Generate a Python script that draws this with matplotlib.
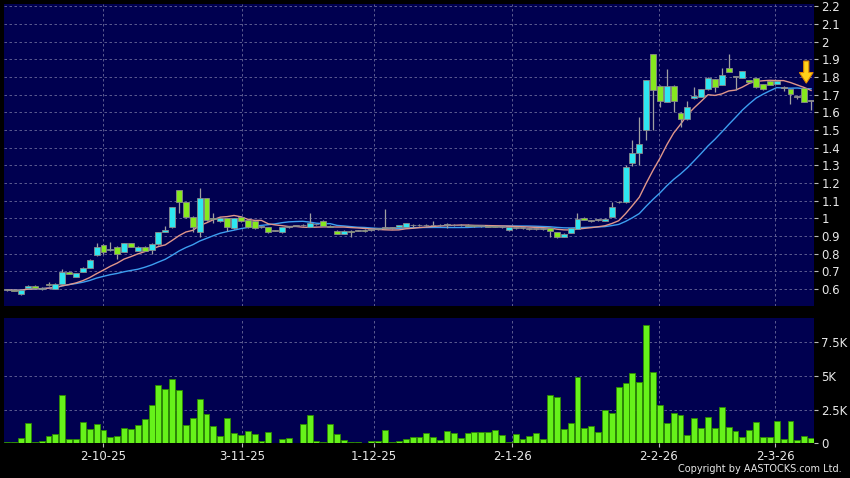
import numpy as np
import pandas as pd
import matplotlib
matplotlib.use("Agg")
import matplotlib.pyplot as plt
from matplotlib.patches import FancyArrow

# daily candles (open, high, low, close), oldest first
opens = [0.595, 0.595, 0.572, 0.607, 0.618, 0.598, 0.63, 0.60, 0.63, 0.698,
         0.67, 0.698, 0.721, 0.79, 0.851, 0.82, 0.838, 0.81, 0.858, 0.817,
         0.839, 0.82, 0.855, 0.922, 0.949, 1.159, 1.09, 1.009, 0.921, 1.113,
         1.0, 0.985, 1.0, 0.943, 1.009, 0.99, 0.985, 0.95, 0.949, 0.93,
         0.92, 0.95, 0.955, 0.96, 0.952, 0.965, 0.987, 0.955, 0.93, 0.911,
         0.93, 0.93, 0.935, 0.935, 0.94, 0.945, 0.945, 0.95, 0.952, 0.96,
         0.96, 0.96, 0.96, 0.96, 0.962, 0.96, 0.96, 0.96, 0.958, 0.955,
         0.955, 0.952, 0.95, 0.934, 0.945, 0.945, 0.94, 0.94, 0.94, 0.943,
         0.92, 0.896, 0.918, 0.94, 1.0, 0.985, 0.99, 0.985, 1.009, 1.09,
         1.09, 1.311, 1.368, 1.50, 1.93, 1.751, 1.66, 1.751, 1.598, 1.56,
         1.68, 1.689, 1.73, 1.789, 1.755, 1.85, 1.80, 1.796, 1.783, 1.793,
         1.76, 1.779, 1.76, 1.74, 1.73, 1.689, 1.736, 1.666]
highs = [0.60, 0.60, 0.595, 0.62, 0.62, 0.61, 0.64, 0.632, 0.712, 0.70,
         0.69, 0.722, 0.768, 0.857, 0.853, 0.865, 0.84, 0.859, 0.86, 0.84,
         0.84, 0.86, 0.922, 0.958, 1.065, 1.16, 1.092, 1.01, 1.17, 1.115,
         1.028, 1.005, 1.0, 1.002, 1.01, 0.995, 0.99, 0.955, 0.95, 0.935,
         0.952, 0.955, 0.955, 0.965, 1.028, 0.97, 0.99, 0.96, 0.935, 0.932,
         0.932, 0.935, 0.938, 0.94, 0.945, 1.053, 0.95, 0.962, 0.975, 0.97,
         0.965, 0.965, 0.985, 0.965, 0.975, 0.97, 0.965, 0.965, 0.962, 0.96,
         0.96, 0.958, 0.955, 0.952, 0.95, 0.95, 0.945, 0.945, 0.945, 0.945,
         0.922, 0.915, 0.945, 1.03, 1.005, 0.99, 0.995, 1.0, 1.094, 1.10,
         1.30, 1.443, 1.572, 1.785, 1.93, 1.755, 1.845, 1.755, 1.60, 1.666,
         1.742, 1.732, 1.80, 1.79, 1.849, 1.93, 1.802, 1.836, 1.785, 1.795,
         1.762, 1.78, 1.781, 1.75, 1.732, 1.70, 1.738, 1.668]
lows = [0.59, 0.588, 0.568, 0.605, 0.605, 0.596, 0.618, 0.598, 0.628, 0.685,
        0.668, 0.696, 0.72, 0.788, 0.797, 0.815, 0.77, 0.808, 0.835, 0.815,
        0.815, 0.80, 0.85, 0.92, 0.945, 1.028, 1.0, 0.92, 0.892, 0.985,
        0.972, 0.98, 0.925, 0.94, 0.98, 0.945, 0.94, 0.945, 0.915, 0.925,
        0.918, 0.945, 0.955, 0.955, 0.95, 0.96, 0.955, 0.95, 0.91, 0.91,
        0.895, 0.925, 0.92, 0.93, 0.935, 0.94, 0.94, 0.948, 0.95, 0.95,
        0.955, 0.955, 0.955, 0.958, 0.945, 0.955, 0.955, 0.955, 0.952, 0.95,
        0.95, 0.948, 0.945, 0.93, 0.94, 0.94, 0.935, 0.935, 0.935, 0.892,
        0.89, 0.894, 0.915, 0.938, 0.988, 0.98, 0.985, 0.982, 1.005, 1.085,
        1.088, 1.296, 1.30, 1.443, 1.50, 1.632, 1.658, 1.604, 1.519, 1.558,
        1.678, 1.687, 1.728, 1.717, 1.753, 1.828, 1.727, 1.794, 1.77, 1.735,
        1.728, 1.753, 1.758, 1.72, 1.647, 1.675, 1.66, 1.613]
closes = [0.595, 0.59, 0.592, 0.618, 0.607, 0.607, 0.62, 0.63, 0.698, 0.687,
          0.689, 0.72, 0.766, 0.838, 0.81, 0.822, 0.80, 0.857, 0.839, 0.839,
          0.817, 0.855, 0.92, 0.934, 1.062, 1.09, 1.009, 0.95, 1.113, 0.99,
          0.995, 1.0, 0.949, 1.0, 0.985, 0.95, 0.945, 0.95, 0.92, 0.93,
          0.95, 0.95, 0.955, 0.96, 0.972, 0.965, 0.957, 0.952, 0.911, 0.93,
          0.92, 0.93, 0.925, 0.935, 0.94, 0.945, 0.945, 0.96, 0.972, 0.96,
          0.96, 0.96, 0.96, 0.962, 0.962, 0.96, 0.96, 0.958, 0.955, 0.955,
          0.952, 0.95, 0.95, 0.949, 0.945, 0.945, 0.94, 0.94, 0.94, 0.93,
          0.892, 0.911, 0.943, 0.996, 0.99, 0.985, 0.99, 0.998, 1.066, 1.09,
          1.292, 1.368, 1.42, 1.783, 1.726, 1.664, 1.751, 1.664, 1.56, 1.632,
          1.693, 1.73, 1.793, 1.742, 1.811, 1.83, 1.80, 1.834, 1.773, 1.742,
          1.73, 1.755, 1.779, 1.74, 1.702, 1.689, 1.66, 1.666]
# volume in thousands of shares
volume = [0.1, 0.1, 0.4, 1.53, 0.07, 0.15, 0.57, 0.69, 3.56, 0.3,
          0.35, 1.56, 1.06, 1.44, 0.99, 0.5, 0.57, 1.14, 1.09, 1.36,
          1.83, 2.8, 4.33, 4.03, 4.73, 3.96, 1.36, 1.86, 3.29, 2.15,
          1.29, 0.57, 1.86, 0.74, 0.59, 0.92, 0.69, 0.2, 0.87, 0.0,
          0.3, 0.4, 0.0, 1.46, 2.08, 0.15, 0.07, 1.41, 0.69, 0.22,
          0.1, 0.1, 0.02, 0.15, 0.15, 1.01, 0.1, 0.17, 0.32, 0.45,
          0.47, 0.74, 0.47, 0.22, 0.89, 0.79, 0.4, 0.79, 0.87, 0.87,
          0.87, 0.99, 0.64, 0.07, 0.72, 0.32, 0.54, 0.74, 0.32, 3.56,
          3.42, 1.06, 1.49, 4.93, 1.16, 1.31, 0.82, 2.48, 2.28, 4.16,
          4.46, 5.2, 4.55, 8.76, 5.27, 2.82, 1.53, 2.23, 2.08, 0.59,
          1.88, 1.11, 1.98, 1.16, 2.67, 1.24, 0.92, 0.47, 0.99, 1.58,
          0.5, 0.47, 1.63, 0.32, 1.66, 0.22, 0.57, 0.4]

date_ticks = [14.0, 34.2, 53.4, 73.5, 94.8, 111.8]
date_labels = ["2-10-25", "3-11-25", "1-12-25", "2-1-26", "2-2-26", "2-3-26"]
price_ticks = [0.6, 0.7, 0.8, 0.9, 1.0, 1.1, 1.2, 1.3, 1.4, 1.5, 1.6, 1.7,
               1.8, 1.9, 2.0, 2.1, 2.2]
price_labels = ["0.6", "0.7", "0.8", "0.9", "1", "1.1", "1.2", "1.3", "1.4",
                "1.5", "1.6", "1.7", "1.8", "1.9", "2", "2.1", "2.2"]
vol_ticks = [0, 2.5, 5, 7.5]
vol_labels = ["0", "2.5K", "5K", "7.5K"]

BG = "#000050"
GRID = "#6a6a9a"
UP = "#2ee6f0"
DOWN = "#86e81e"
TXT = "#e8e8e8"

o = np.array(opens)
h = np.array(highs)
l = np.array(lows)
c = np.array(closes)
x = np.arange(len(c))

ma10 = pd.Series(c).rolling(10, min_periods=1).mean()
ma20 = pd.Series(c).rolling(20, min_periods=1).mean()

fig = plt.figure(figsize=(8.5, 4.78), dpi=100, facecolor="black")
ax = fig.add_axes([0.0047, 0.3598, 0.9533, 0.6318], facecolor=BG)
axv = fig.add_axes([0.0047, 0.0726, 0.9533, 0.2621], facecolor=BG)

for a in (ax, axv):
    a.set_xlim(-0.48, 117.47)
    for s in a.spines.values():
        s.set_visible(False)
    a.yaxis.tick_right()
    a.tick_params(axis="y", colors="#bbbbbb", labelcolor=TXT, length=3,
                  width=0.8, pad=2, labelsize=8.5)
    a.set_xticks(date_ticks)
    a.grid(True, color=GRID, linestyle=(0, (3, 3)), linewidth=0.6)
    a.set_axisbelow(True)

ax.tick_params(axis="x", length=0, labelbottom=False)
axv.tick_params(axis="x", colors="#bbbbbb", labelcolor=TXT, length=3,
                width=0.8, pad=2, labelsize=8.5)
axv.set_xticklabels(date_labels)

# price panel
ax.set_ylim(0.503, 2.213)
ax.set_yticks(price_ticks)
ax.set_yticklabels(price_labels)

ax.plot(x, ma20, color="#3d9ef0", linewidth=1.0, zorder=2)
ax.plot(x, ma10, color="#e0968a", linewidth=1.0, zorder=2)

ax.vlines(x, l, h, color="#a0a0a0", linewidth=0.9, zorder=3)
body_lo = np.minimum(o, c)
body_h = np.maximum(np.abs(c - o), 0.004)
cols = np.where(c > o, UP, np.where(c < o, DOWN, "#b0b0b0"))
ax.bar(x, body_h, bottom=body_lo, width=0.86, color=cols,
       edgecolor="#8a8a8a", linewidth=0.6, zorder=4)

# yellow marker arrow above the last candles
ax.add_patch(FancyArrow(116.3, 1.89, 0, -0.125, width=0.75, head_width=2.0,
                        head_length=0.06, length_includes_head=True,
                        facecolor="#ffd21a", edgecolor="#e08a00",
                        linewidth=0.8, zorder=6))

# volume panel
axv.set_ylim(0, 9.28)
axv.set_yticks(vol_ticks)
axv.set_yticklabels(vol_labels)
axv.bar(x, volume, width=0.86, color="#66f21a", edgecolor="#2c8a00",
        linewidth=0.6, zorder=3)

fig.text(0.99, 0.008, "Copyright by AASTOCKS.com Ltd.", color=TXT,
         fontsize=7, ha="right", va="bottom")

fig.savefig("out.png", dpi=100, facecolor="black")
